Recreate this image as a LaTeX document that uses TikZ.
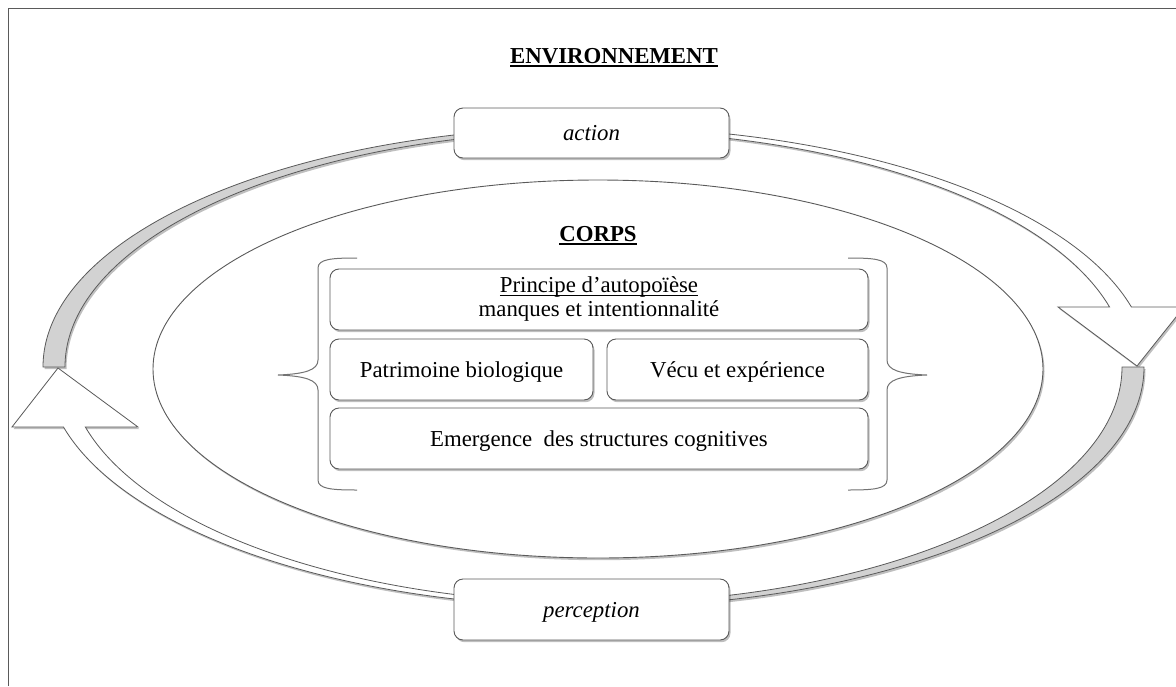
\documentclass[tikz,border=0pt]{standalone}
\usepackage{fontspec}
\setmainfont{Liberation Serif}
\usetikzlibrary{shapes.geometric,shadows}
\newcommand\ulthin[1]{\setbox0=\hbox{#1}\rlap{\rule[-3.2pt]{\wd0}{1pt}}\box0}
\newcommand\ulthick[1]{\setbox0=\hbox{#1}\rlap{\rule[-4.3pt]{\wd0}{2pt}}\box0}
\definecolor{edge}{HTML}{5A5A5A}
\definecolor{band}{HTML}{D2D2D2}
\tikzset{
  softshadow/.style={drop shadow={opacity=0.25, shadow xshift=1.5pt, shadow yshift=-2.2pt, fill=black}},
  box/.style={draw=edge, line width=0.9pt, fill=white, rounded corners=9pt, inner sep=0pt,
    text height=15pt, text depth=0pt, align=center, softshadow, font=\fontsize{22.8}{24}\selectfont},
  bandgray/.style={draw=edge, line width=0.8pt, fill=band, softshadow},
  bandwhite/.style={draw=edge, line width=0.8pt, fill=white, softshadow},
  bracestyle/.style={draw=black!55, line width=1pt},
  title/.style={font=\fontsize{22.8}{24}\selectfont\bfseries, anchor=base, inner sep=0pt},
}
\begin{document}
\begin{tikzpicture}[x=1pt,y=-1pt]
\useasboundingbox (0,0) rectangle (1176,686);
% frame
\draw[edge, line width=1pt] (8,686) -- (8,8) -- (1176,8);

% top arrow (action): gray back part, then white front part with head
\filldraw[bandgray] (43,367) arc[start angle=180, end angle=90, x radius=553pt, y radius=240pt]
  -- (596,131) arc[start angle=90, end angle=180, x radius=531pt, y radius=236pt] -- cycle;
\filldraw[bandwhite] (596,127) arc[start angle=90, end angle=14.4775, x radius=553pt, y radius=240pt]
  -- (1184,307) -- (1137,366) -- (1058,307) -- (1109.55,307)
  arc[start angle=14.7295, end angle=90, x radius=531pt, y radius=236pt] -- cycle;

% bottom arrow (perception)
\filldraw[bandgray] (1144,367) arc[start angle=0, end angle=-90, x radius=549pt, y radius=240pt]
  -- (595,603) arc[start angle=-90, end angle=0, x radius=527pt, y radius=236pt] -- cycle;
\filldraw[bandwhite] (595,607) arc[start angle=-90, end angle=-165.5225, x radius=549pt, y radius=240pt]
  -- (12,427) -- (58,368) -- (138,427) -- (85.32,427)
  arc[start angle=-165.2705, end angle=-90, x radius=527pt, y radius=236pt] -- cycle;

% body ellipse
\node[ellipse, draw=edge, line width=0.9pt, fill=white, minimum width=890pt, minimum height=378pt,
  inner sep=0pt, softshadow] (corpsell) at (598,369) {};

% braces
\draw[bracestyle] (357,258) .. controls (332,258) and (318,259) .. (318,268) -- (318,360)
  .. controls (318,370) and (305,374) .. (278,375) .. controls (305,376) and (318,380) .. (318,390)
  -- (318,480) .. controls (318,489) and (332,490) .. (357,490);
\draw[bracestyle] (848,258) .. controls (873,258) and (887,259) .. (887,268) -- (887,360)
  .. controls (887,370) and (900,374) .. (927,375) .. controls (900,376) and (887,380) .. (887,390)
  -- (887,480) .. controls (887,489) and (873,490) .. (848,490);

% titles
\node[title] (env) at (614,63) {\ulthick{ENVIRONNEMENT}};
\node[title] (corps) at (598,241) {\ulthick{CORPS}};

% boxes
\node[box, minimum width=275pt, minimum height=50pt] (action) at (591.5,133) {\itshape action};
\node[box, minimum width=275pt, minimum height=61pt] (perception) at (591.5,609.5) {\itshape perception};
\node[box, minimum width=538pt, minimum height=61pt, text height=39pt, text depth=5pt] (b1) at (599,299.5)
  {\ulthin{Principe d’autopoïèse}\\manques et intentionnalité};
\node[box, minimum width=263pt, minimum height=61pt] (b2) at (461.5,369.5) {Patrimoine biologique};
\node[box, minimum width=261pt, minimum height=61pt] (b3) at (737.5,369.5) {Vécu et expérience};
\node[box, minimum width=538pt, minimum height=61pt] (b4) at (599,438.5) {Emergence~ des structures cognitives};
\end{tikzpicture}
\end{document}
